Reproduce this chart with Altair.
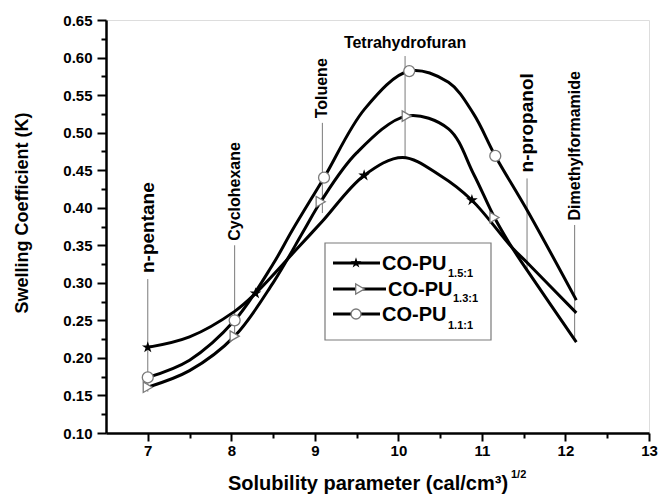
import altair as alt
import pandas as pd

# ---------------- data ----------------
# smooth curves
pu15_x = [7.0, 7.5, 8.04, 8.29, 8.8, 9.09, 9.59, 10.05, 10.5, 10.88, 11.36, 11.54, 12.13]
pu15_y = [0.214, 0.228, 0.262, 0.286, 0.347, 0.382, 0.443, 0.467, 0.443, 0.410, 0.347, 0.327, 0.260]
pu13_x = [7.0, 7.5, 8.04, 8.5, 8.87, 9.07, 9.5, 10.1, 10.6, 10.9, 11.15, 11.36, 11.54, 12.13]
pu13_y = [0.161, 0.183, 0.229, 0.300, 0.370, 0.408, 0.473, 0.522, 0.505, 0.445, 0.387, 0.347, 0.317, 0.221]
pu11_x = [7.0, 7.5, 8.04, 8.5, 8.73, 9.11, 9.6, 10.13, 10.6, 10.9, 11.16, 11.55, 12.13]
pu11_y = [0.174, 0.197, 0.250, 0.325, 0.370, 0.440, 0.532, 0.582, 0.567, 0.525, 0.469, 0.395, 0.277]

# marker positions
pu15_mx = [7.0, 8.29, 9.59, 10.88]
pu15_my = [0.214, 0.286, 0.443, 0.410]
pu13_mx = [7.0, 8.04, 9.07, 10.10, 11.15]
pu13_my = [0.161, 0.229, 0.408, 0.522, 0.387]
pu11_mx = [7.0, 8.04, 9.11, 10.13, 11.16]
pu11_my = [0.174, 0.250, 0.440, 0.582, 0.469]

# solvents
solvents = ["n-pentane", "Cyclohexane", "Toluene", "Tetrahydrofuran", "n-propanol", "Dimethylformamide"]
solvent_x = [7.0, 8.04, 9.09, 10.08, 11.54, 12.11]
solvent_top = [0.305, 0.350, 0.513, 0.602, 0.439, 0.377]
solvent_bottom = [0.155, 0.227, 0.393, 0.467, 0.317, 0.223]

x_ticks = [7, 7.5, 8, 8.5, 9, 9.5, 10, 10.5, 11, 11.5, 12, 12.5, 13]
y_ticks = [0.10, 0.125, 0.15, 0.175, 0.20, 0.225, 0.25, 0.275, 0.30, 0.325, 0.35,
           0.375, 0.40, 0.425, 0.45, 0.475, 0.50, 0.525, 0.55, 0.575, 0.60, 0.625, 0.65]

legend_names = ["CO-PU", "CO-PU", "CO-PU"]
legend_subs = ["1.5:1", "1.3:1", "1.1:1"]

# ---------------- tables ----------------
curves = pd.concat([
    pd.DataFrame({"x": pu15_x, "y": pu15_y, "s": "1.5"}),
    pd.DataFrame({"x": pu13_x, "y": pu13_y, "s": "1.3"}),
    pd.DataFrame({"x": pu11_x, "y": pu11_y, "s": "1.1"}),
])
m15 = pd.DataFrame({"x": pu15_mx, "y": pu15_my})
m13 = pd.DataFrame({"x": pu13_mx, "y": pu13_my})
m11 = pd.DataFrame({"x": pu11_mx, "y": pu11_my})
solv = pd.DataFrame({"name": solvents, "x": solvent_x, "top": solvent_top, "bottom": solvent_bottom})

FONT = "Liberation Sans"
W, H = 543, 413
STAR = ("M0,-1L0.2245,-0.309L0.9511,-0.309L0.3633,0.118L0.5878,0.809L0,0.382"
        "L-0.5878,0.809L-0.3633,0.118L-0.9511,-0.309L-0.2245,-0.309Z")
xs = alt.Scale(domain=[6.5, 13], nice=False, zero=False)
ys = alt.Scale(domain=[0.10, 0.65], nice=False, zero=False)

x_axis = alt.Axis(
    orient="bottom", values=x_ticks, title=None, grid=False, format=".0f",
    labelExpr="datum.value % 1 == 0 ? datum.label : ''",
    tickSize={"condition": {"test": "datum.value % 1 == 0", "value": 8}, "value": 5},
    tickWidth=2, tickColor="black", domainColor="black", domainWidth=2.5,
    labelFont=FONT, labelFontWeight="bold", labelFontSize=15, labelColor="black",
    labelPadding=2, labelFlush=False, labelOverlap=False,
)
y_axis = alt.Axis(
    orient="left", values=y_ticks, title=None, grid=False, format=".2f",
    labelExpr="round(datum.value * 40) % 2 == 0 ? datum.label : ''",
    tickSize={"condition": {"test": "round(datum.value * 40) % 2 == 0", "value": 9}, "value": 5},
    tickWidth=2, tickColor="black", domainColor="black", domainWidth=2.5,
    labelFont=FONT, labelFontWeight="bold", labelFontSize=15, labelColor="black",
    labelPadding=5, labelFlush=False, labelOverlap=False,
)


def X(f):
    return alt.X(f, type="quantitative", scale=xs, axis=x_axis)


def Y(f):
    return alt.Y(f, type="quantitative", scale=ys, axis=y_axis)


GRAY = "#7a7a7a"

lines = alt.Chart(curves).mark_line(color="black", strokeWidth=3, interpolate="catmull-rom").encode(
    x=X("x"), y=Y("y"), detail="s:N")

rules = alt.Chart(solv).mark_rule(color=GRAY, strokeWidth=1).encode(
    x=X("x"), y=Y("top"), y2="bottom:Q")

vert_big = alt.Chart(solv).transform_filter(
    "datum.name == 'n-pentane' || datum.name == 'n-propanol'"
).transform_calculate(ly="datum.top + 0.008").mark_text(
    angle=270, align="left", baseline="middle", font=FONT, fontWeight="bold",
    fontSize=19, color="black").encode(x=X("x"), y=Y("ly"), text="name:N")

vert_small = alt.Chart(solv).transform_filter(
    "datum.name == 'Cyclohexane' || datum.name == 'Toluene' || datum.name == 'Dimethylformamide'"
).transform_calculate(ly="datum.top + 0.006").mark_text(
    angle=270, align="left", baseline="middle", font=FONT, fontWeight="bold",
    fontSize=16, color="black").encode(x=X("x"), y=Y("ly"), text="name:N")

horiz = alt.Chart(solv).transform_filter("datum.name == 'Tetrahydrofuran'").transform_calculate(
    ly="datum.top + 0.011").mark_text(
    align="center", baseline="alphabetic", font=FONT, fontWeight="bold",
    fontSize=16, color="black").encode(x=X("x"), y=Y("ly"), text="name:N")

stars = alt.Chart(m15).mark_point(shape=STAR, filled=True, color="black", size=150, opacity=1).encode(
    x=X("x"), y=Y("y"))
tris = alt.Chart(m13).mark_point(shape="triangle-right", filled=True, fill="white", stroke=GRAY,
                                 strokeWidth=1.3, size=110, opacity=1).encode(x=X("x"), y=Y("y"))
circs = alt.Chart(m11).mark_point(shape="circle", filled=True, fill="white", stroke=GRAY,
                                  strokeWidth=1.3, size=120, opacity=1).encode(x=X("x"), y=Y("y"))

# ---------------- legend ----------------
one = pd.DataFrame({"k": [0]})
leg_layers = [
    alt.Chart(one).mark_rect(fill="white", stroke=GRAY, strokeWidth=1.2).encode(
        x=alt.value(219), x2=alt.value(385), y=alt.value(223), y2=alt.value(320))
]
rows = [
    # y, line x1, line x2, marker x, text x, sub x, sub y
    (243, 227, 274, 250, 276, 342, 254),
    (269, 227, 280, 254, 282, 347, 279),
    (294, 227, 274, 250, 276, 342, 306),
]
marker_styles = [
    dict(shape=STAR, filled=True, color="black", size=130),
    dict(shape="triangle-right", filled=True, fill="white", stroke=GRAY, strokeWidth=1.3, size=100),
    dict(shape="circle", filled=True, fill="white", stroke=GRAY, strokeWidth=1.3, size=100),
]
for i, (ry, lx1, lx2, mx, tx, sx, sy) in enumerate(rows):
    leg_layers.append(alt.Chart(one).mark_rule(color="black", strokeWidth=2.8).encode(
        x=alt.value(lx1), x2=alt.value(lx2), y=alt.value(ry)))
    leg_layers.append(alt.Chart(one).mark_point(opacity=1, **marker_styles[i]).encode(
        x=alt.value(mx), y=alt.value(ry)))
    leg_layers.append(alt.Chart(one).mark_text(
        text=legend_names[i], align="left", baseline="middle", font=FONT, fontWeight="bold",
        fontSize=20, color="black").encode(x=alt.value(tx), y=alt.value(ry + 1)))
    leg_layers.append(alt.Chart(one).mark_text(
        text=legend_subs[i], align="left", baseline="middle", font=FONT, fontWeight="bold",
        fontSize=11, color="black").encode(x=alt.value(sx), y=alt.value(sy)))

# ---------------- axis titles ----------------
xtitle = alt.Chart(one).mark_text(
    text="Solubility parameter (cal/cm³)", align="center", baseline="alphabetic", font=FONT,
    fontWeight="bold", fontSize=20, color="black").encode(x=alt.value(262), y=alt.value(470))
xtitle_sup = alt.Chart(one).mark_text(
    text="1/2", align="left", baseline="alphabetic", font=FONT,
    fontWeight="bold", fontSize=11, color="black").encode(x=alt.value(405), y=alt.value(458))
ytitle = alt.Chart(one).mark_text(
    text="Swelling Coefficient (K)", align="center", baseline="middle", angle=270, font=FONT,
    fontWeight="bold", fontSize=18, color="black").encode(x=alt.value(-83), y=alt.value(193))

chart = alt.layer(
    rules, lines, stars, tris, circs, vert_big, vert_small, horiz,
    *leg_layers, xtitle, xtitle_sup, ytitle
).properties(
    width=W, height=H, autosize="none",
    padding={"left": 106, "top": 20, "right": 11, "bottom": 62},
).configure_view(stroke=None).configure(background="white")

chart.save("out.html", embed_options={"renderer": "svg", "actions": False})
